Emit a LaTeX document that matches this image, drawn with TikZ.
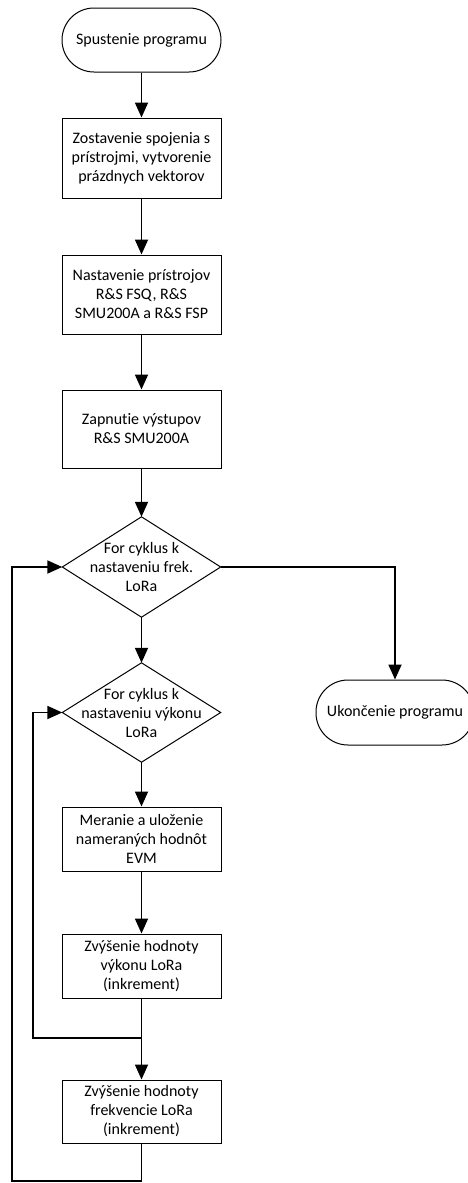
\documentclass[tikz,border=0pt]{standalone}
\usepackage{fontspec}
\setmainfont{Carlito}[Ligatures={NoCommon,NoRare}]
\usepackage{tikz}
\usetikzlibrary{positioning,shapes,arrows.meta}

\begin{document}
\begin{tikzpicture}[x=1pt,y=-1pt]
\tikzstyle{every node}+=[inner sep=0pt,font=\fontsize{16}{19}\selectfont,align=center]
\tikzstyle{terminal}=[draw,line width=1pt,minimum width=159pt,minimum height=64pt,rounded corners=32pt]
\tikzstyle{process}=[draw,line width=1pt,minimum width=159pt]
\tikzstyle{decision}=[minimum width=158pt,minimum height=100pt]
\tikzstyle{flow}=[line width=1.8pt,-{Triangle[width=13pt,length=15pt]}]
\useasboundingbox (0,0) rectangle (467,1183);
\node [terminal] (start) at (141.5,40) {Spustenie programu};
\node [process,minimum height=80pt] (connect) at (141.5,158) {Zostavenie spojenia s\\prístrojmi, vytvorenie\\prázdnych vektorov};
\node [process,minimum height=79pt] (setup) at (141.5,294.5) {Nastavenie prístrojov\\R\&S FSQ, R\&S\\SMU200A a R\&S FSP};
\node [process,minimum height=78pt] (output) at (141.5,429) {Zapnutie výstupov\\R\&S SMU200A};
\node [decision] (freqloop) at (141.5,567) {For cyklus k\\nastaveniu frek.\\LoRa};
\draw [line width=1pt] (freqloop.north) -- (freqloop.east) -- (freqloop.south) -- (freqloop.west) -- cycle;
\node [decision,minimum height=99pt] (powloop) at (141.5,712.5) {For cyklus k\\nastaveniu výkonu\\LoRa};
\draw [line width=1pt] (powloop.north) -- (powloop.east) -- (powloop.south) -- (powloop.west) -- cycle;
\node [process,minimum height=64pt] (measure) at (141.5,839) {Meranie a uloženie\\nameraných hodnôt\\EVM};
\node [process,minimum height=64pt] (powinc) at (141.5,966) {Zvýšenie hodnoty\\výkonu LoRa\\(inkrement)};
\node [process,minimum height=63pt] (freqinc) at (141.5,1111.5) {Zvýšenie hodnoty\\frekvencie LoRa\\(inkrement)};
\node [terminal,minimum width=158pt,minimum height=65pt] (stop) at (395,712.5) {Ukončenie programu};
\coordinate (powjoin) at (141.5,1038);
\coordinate (powback) at (33,1038);
\coordinate (freqjoin) at (141.5,1181);
\coordinate (freqback) at (12,1181);
\draw [flow] (start) -- (connect);
\draw [flow] (connect) -- (setup);
\draw [flow] (setup) -- (output);
\draw [flow] (output) -- (freqloop.north);
\draw [flow] (freqloop.south) -- (powloop.north);
\draw [flow] (powloop.south) -- (measure);
\draw [flow] (measure) -- (powinc);
\draw [flow] (powinc) -- (freqinc);
\draw [flow] (powjoin) -- (powback) |- (powloop.west);
\draw [flow] (freqinc) -- (freqjoin) -- (freqback) |- (freqloop.west);
\draw [flow] (freqloop.east) -| (stop.north);
\end{tikzpicture}
\end{document}
